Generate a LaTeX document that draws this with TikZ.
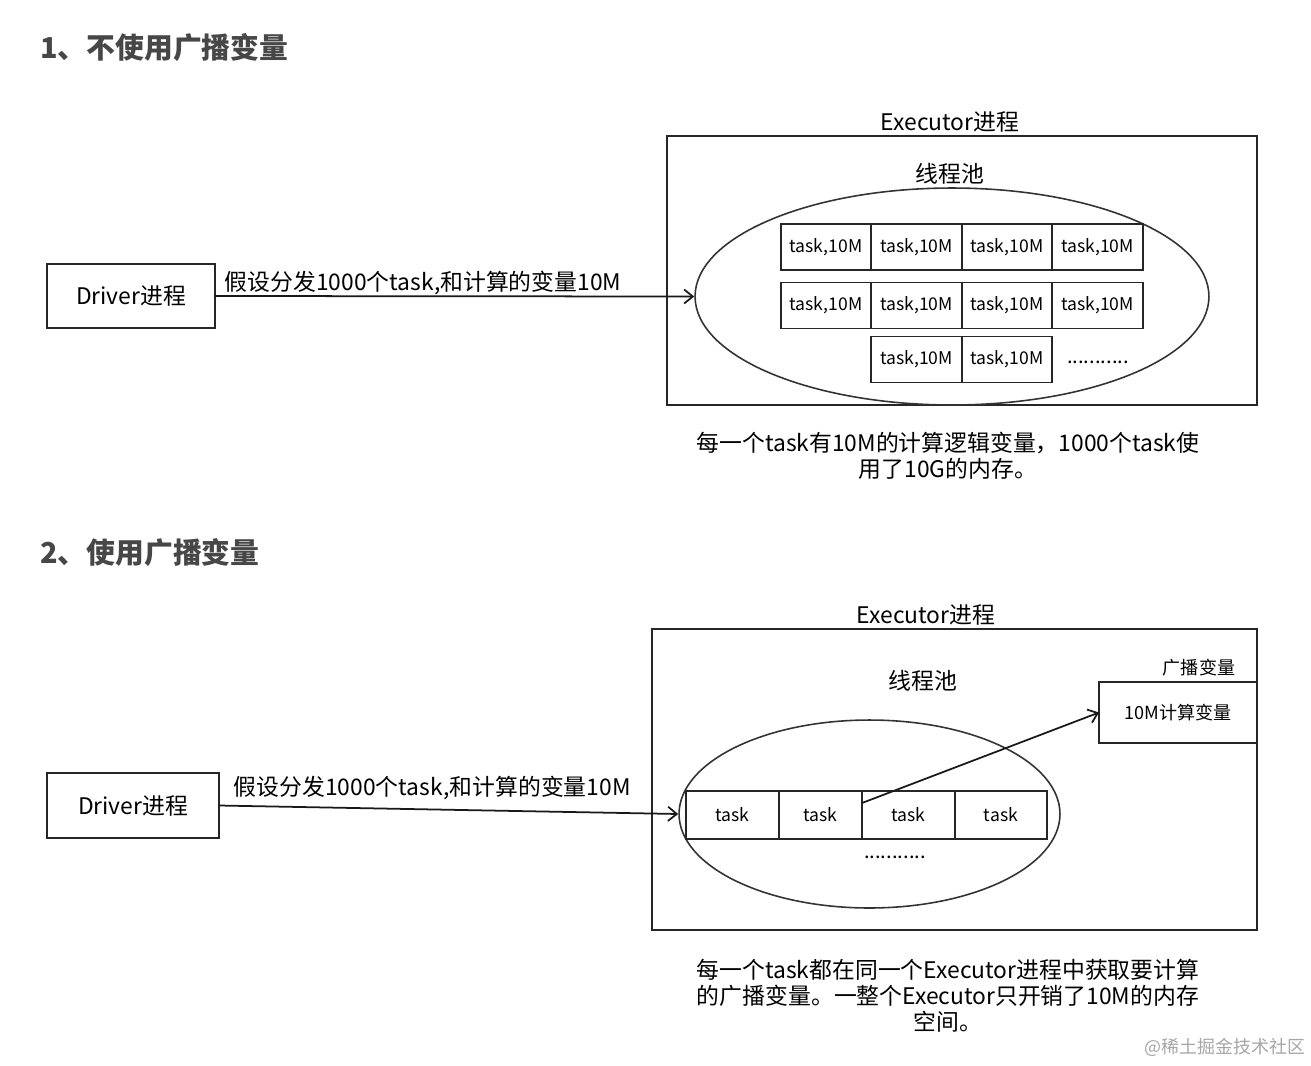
\documentclass[tikz,border=0pt]{standalone}
\usepackage{fontspec}
\setmainfont{Noto Sans CJK SC}
\usetikzlibrary{shapes.geometric,arrows.meta,positioning,calc}

\begin{document}
\begin{tikzpicture}[x=0.02cm, y=-0.02cm,
    box/.style={draw=black!85, line width=1.1pt, rectangle, inner sep=0pt, outer sep=0pt},
    taskbox/.style={box, minimum width=1.81cm, minimum height=0.92cm, font=\fontsize{10}{12}\selectfont},
    pool/.style={draw=black!80, line width=0.9pt, ellipse, inner sep=0pt},
    title/.style={font=\fontsize{16.4}{20}\selectfont\bfseries, text=black!72, anchor=west, inner sep=0pt},
    lbl/.style={font=\fontsize{13}{15}\selectfont, inner sep=0pt},
    small/.style={font=\fontsize{10.3}{12}\selectfont, inner sep=0pt},
    note/.style={font=\fontsize{13}{14.7}\selectfont, align=center, inner sep=0pt},
    flow/.style={-{Straight Barb[length=5pt,width=8pt]}, line width=1pt, draw=black!90}
]
        \fill[white] (0,0) rectangle (1311,1065);
        \useasboundingbox (0,0) rectangle (1311,1065);

        % ============================================================
        % 1: without broadcast variable
        % ============================================================
        \node[title] (head1) at (40,48) {1、不使用广播变量};

        \node[box, minimum width=3.36cm, minimum height=1.28cm, lbl] (drv1) at (131,296) {Driver进程};
        \node[box, minimum width=11.8cm, minimum height=5.38cm] (exec1) at (962,270.5) {};
        \node[lbl] (exec1lbl) at (950,122) {Executor进程};
        \node[lbl] (pool1lbl) at (950,174) {线程池};
        \node[pool, minimum width=10.28cm, minimum height=4.34cm] (pool1) at (952,296.5) {};

        % task rows
        \node[taskbox] (t11) at (826,247) {task,10M};
        \node[taskbox, right=0pt of t11] (t12) {task,10M};
        \node[taskbox, right=0pt of t12] (t13) {task,10M};
        \node[taskbox, right=0pt of t13] (t14) {task,10M};

        \node[taskbox] (t21) at (826,305.5) {task,10M};
        \node[taskbox, right=0pt of t21] (t22) {task,10M};
        \node[taskbox, right=0pt of t22] (t23) {task,10M};
        \node[taskbox, right=0pt of t23] (t24) {task,10M};

        \node[taskbox] (t32) at (916.5,359.5) {task,10M};
        \node[taskbox, right=0pt of t32] (t33) {task,10M};
        \node[small, font=\fontsize{11.5}{12}\selectfont] (dots1) at (1098,362) {...........};

        \draw[flow] (drv1.east) -- (pool1.west)
            node[pos=0, anchor=south west, lbl, xshift=5pt, yshift=0pt] (send1) {假设分发1000个task,和计算的变量10M};

        \node[note] (note1) at (948,456) {每一个task有10M的计算逻辑变量，1000个task使\\用了10G的内存。};

        % ============================================================
        % 2: with broadcast variable
        % ============================================================
        \node[title] (head2) at (40,553) {2、使用广播变量};

        \node[box, minimum width=3.44cm, minimum height=1.3cm, lbl] (drv2) at (133,805.5) {Driver进程};
        \node[box, minimum width=12.1cm, minimum height=6.02cm] (exec2) at (954.5,779.5) {};
        \node[lbl] (exec2lbl) at (926,615) {Executor进程};
        \node[lbl] (pool2lbl) at (923,681) {线程池};
        \node[pool, minimum width=7.62cm, minimum height=3.76cm] (pool2) at (869.5,814) {};

        \node[taskbox, minimum width=1.86cm, minimum height=0.96cm] (s1) at (732.5,815) {task};
        \node[taskbox, minimum width=1.66cm, minimum height=0.96cm, right=0pt of s1] (s2) {task};
        \node[taskbox, minimum width=1.86cm, minimum height=0.96cm, right=0pt of s2] (s3) {task};
        \node[taskbox, minimum width=1.84cm, minimum height=0.96cm, right=0pt of s3] (s4) {task};
        \node[small, font=\fontsize{11.5}{12}\selectfont] (dots2) at (895,857) {...........};

        \node[box, minimum width=3.16cm, minimum height=1.22cm, small] (bc) at (1178,712.5) {10M计算变量};
        \node[small] (bclbl) at (1199,668) {广播变量};

        \draw[flow] (drv2.east) -- (pool2.west)
            node[pos=0, anchor=south west, lbl, xshift=8pt, yshift=2.6pt] (send2) {假设分发1000个task,和计算的变量10M};
        \draw[flow] ($(s3.west)!0.5!(s3.north west)$) -- (bc.west);

        \node[note] (note2) at (948,996) {每一个task都在同一个Executor进程中获取要计算\\的广播变量。一整个Executor只开销了10M的内存\\空间。};

        \node[font=\fontsize{10.2}{12}\selectfont, text=black!35, inner sep=0pt] (mark) at (1225,1047) {@稀土掘金技术社区};
\end{tikzpicture}
\end{document}
